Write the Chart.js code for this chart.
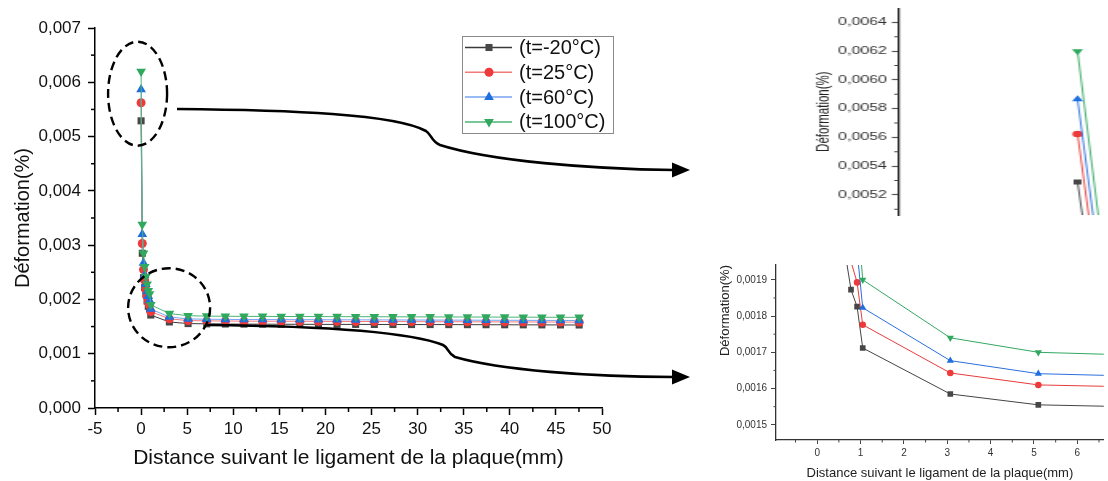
<!DOCTYPE html>
<html>
<head>
<meta charset="utf-8">
<script src="https://cdn.jsdelivr.net/npm/chart.js@4.4.1/dist/chart.umd.min.js"></script>
<style>
html, body { margin: 0; padding: 0; background: #fff; }
#page { position: relative; width: 1108px; height: 481px; overflow: hidden; background: #fff; }
canvas { position: absolute; }
#mainChart { left: 0; top: 0; }
#zoomTop { left: 800px; top: 0; transform: scaleX(1.6); transform-origin: 0 0; }
#zoomBottom { left: 700px; top: 250px; }
</style>
</head>
<body>
<div id="page">
  <canvas id="mainChart" width="700" height="481"></canvas>
  <canvas id="zoomTop" width="193" height="235"></canvas>
  <canvas id="zoomBottom" width="408" height="231"></canvas>
</div>
<script>
// --- Données ---
const distance = [0, 0.13, 0.26, 0.39, 0.52, 0.65, 0.78, 0.92, 1.05,
    3.07, 5.1, 7.12, 9.14, 11.16, 13.18, 15.2, 17.22, 19.24, 21.26, 23.28, 25.3,
    27.32, 29.34, 31.36, 33.38, 35.4, 37.42, 39.44, 41.46, 43.48, 45.5, 47.52];

const defM20 = [0.00529, 0.00285, 0.0024, 0.00222, 0.0021, 0.00197, 0.001873, 0.001826, 0.001712,
    0.001585, 0.001555, 0.00155, 0.001547, 0.001545, 0.001544, 0.001543, 0.001542, 0.001541, 0.00154, 0.00154, 0.001539,
    0.001538, 0.001537, 0.001537, 0.001536, 0.001535, 0.001534, 0.001533, 0.001532, 0.001531, 0.00153, 0.001529];
const def25 = [0.005624, 0.00303, 0.00255, 0.00235, 0.00218, 0.00205, 0.00195, 0.001893, 0.001776,
    0.001643, 0.00161, 0.001605, 0.001602, 0.0016, 0.001599, 0.001598, 0.001597, 0.001596, 0.001595, 0.001594, 0.001593,
    0.001592, 0.001591, 0.00159, 0.001589, 0.001588, 0.001587, 0.001586, 0.001585, 0.001584, 0.001583, 0.001582];
const def60 = [0.005866, 0.0032, 0.00267, 0.00245, 0.00228, 0.00215, 0.00206, 0.00198, 0.001823,
    0.001677, 0.001641, 0.001635, 0.001632, 0.00163, 0.001629, 0.001628, 0.001627, 0.001626, 0.001625, 0.001624, 0.001623,
    0.001622, 0.001621, 0.00162, 0.001619, 0.001618, 0.001617, 0.001616, 0.001615, 0.001614, 0.001613, 0.001612];
const def100 = [0.0062, 0.00338, 0.00285, 0.0026, 0.00242, 0.00228, 0.00216, 0.0021, 0.0019,
    0.00174, 0.0017, 0.001693, 0.00169, 0.001688, 0.001687, 0.001686, 0.001685, 0.001684, 0.001683, 0.001682, 0.001681,
    0.00168, 0.001679, 0.001678, 0.001677, 0.001676, 0.001675, 0.001674, 0.001673, 0.001672, 0.001671, 0.00167];

const seriesLabels = ['(t=-20°C)', '(t=25°C)', '(t=60°C)', '(t=100°C)'];
const seriesValues = [defM20, def25, def60, def100];

const xTitle = 'Distance suivant le ligament de la plaque(mm)';
const yTitle = 'Déformation(%)';

// --- Styles ---
const markerColors = ['#474747', '#ee3a3a', '#1f6ee0', '#30a85e'];
const lineColorsMain = ['#3a3a3a', '#f47a7a', '#76a4f0', '#4cb577'];
const lineColorsZoom = ['#444444', '#e83c3c', '#2a6fdc', '#34a862'];
const markerStyles = ['rect', 'circle', 'triangle', 'triangle'];
const markerRotation = [0, 0, 0, 180];

Chart.defaults.font.family = 'Arial, "Liberation Sans", Helvetica, sans-serif';

const fmt = (v, d) => v.toFixed(d).replace('.', ',');

function buildSets(sizes, lineWidth, lineColors) {
    return seriesLabels.map((label, i) => ({
        label: label,
        data: distance.map((d, k) => ({ x: d, y: seriesValues[i][k] })),
        showLine: true,
        borderColor: lineColors[i],
        borderWidth: lineWidth,
        pointStyle: markerStyles[i],
        pointRotation: markerRotation[i],
        pointRadius: sizes[i],
        pointBackgroundColor: markerColors[i],
        pointBorderWidth: 0,
        tension: 0,
        order: 3 - i
    }));
}

// petites graduations intermédiaires
const minorTicks = {
    id: 'minorTicks',
    afterDraw(chart, args, opts) {
        const { ctx, chartArea, scales } = chart;
        ctx.save();
        ctx.strokeStyle = opts.color;
        ctx.lineWidth = opts.width;
        (opts.x || []).forEach(v => {
            const px = scales.x.getPixelForValue(v);
            if (px < chartArea.left || px > chartArea.right) return;
            ctx.beginPath();
            ctx.moveTo(px, chartArea.bottom);
            ctx.lineTo(px, chartArea.bottom + opts.len);
            ctx.stroke();
        });
        (opts.y || []).forEach(v => {
            const py = scales.y.getPixelForValue(v);
            if (py < chartArea.top || py > chartArea.bottom) return;
            ctx.beginPath();
            ctx.moveTo(chartArea.left, py);
            ctx.lineTo(chartArea.left - opts.len, py);
            ctx.stroke();
        });
        ctx.restore();
    }
};

// ellipses pointillées, flèches et légende du graphe principal
const decorations = {
    id: 'decorations',
    afterDraw(chart) {
        const { ctx, scales: { x, y } } = chart;
        ctx.save();
        ctx.strokeStyle = '#000';
        ctx.lineWidth = 2.4;
        ctx.setLineDash([9, 5]);
        ctx.beginPath();
        ctx.ellipse(x.getPixelForValue(-0.38), y.getPixelForValue(0.00579), 29.5, 52, 0, 0, 2 * Math.PI);
        ctx.stroke();
        ctx.beginPath();
        ctx.ellipse(x.getPixelForValue(3.04), y.getPixelForValue(0.001847), 41, 39.5, 0, 0, 2 * Math.PI);
        ctx.stroke();
        ctx.setLineDash([]);

        ctx.lineWidth = 2.6;
        ctx.beginPath();
        ctx.moveTo(177, 109);
        ctx.bezierCurveTo(290, 110, 395, 114, 426, 131);
        ctx.bezierCurveTo(432, 135, 431, 141, 440, 145);
        ctx.bezierCurveTo(490, 161, 590, 169, 674, 170);
        ctx.stroke();
        ctx.beginPath();
        ctx.moveTo(207, 325);
        ctx.bezierCurveTo(320, 326, 410, 332, 443, 345);
        ctx.bezierCurveTo(449, 348, 447, 353, 455, 357);
        ctx.bezierCurveTo(500, 370, 590, 377, 674, 377);
        ctx.stroke();
        ctx.fillStyle = '#000';
        [170, 377].forEach(ay => {
            ctx.beginPath();
            ctx.moveTo(690, ay);
            ctx.lineTo(672, ay - 7.5);
            ctx.lineTo(672, ay + 7.5);
            ctx.closePath();
            ctx.fill();
        });

        // légende
        ctx.strokeStyle = '#8a8a8a';
        ctx.lineWidth = 1;
        ctx.strokeRect(462.5, 36.5, 151, 97);
        chart.data.datasets.forEach((ds, i) => {
            const yy = 47.5 + i * 24.8;
            ctx.strokeStyle = ds.borderColor;
            ctx.lineWidth = 1.5;
            ctx.beginPath();
            ctx.moveTo(465, yy);
            ctx.lineTo(512, yy);
            ctx.stroke();
            ctx.fillStyle = ds.pointBackgroundColor;
            Chart.helpers.drawPoint(ctx, {
                pointStyle: ds.pointStyle, radius: ds.pointRadius,
                rotation: ds.pointRotation, borderWidth: 0
            }, 489, yy);
            ctx.fillStyle = '#111';
            ctx.font = '20px Arial, "Liberation Sans", sans-serif';
            ctx.textAlign = 'left';
            ctx.textBaseline = 'middle';
            ctx.fillText(ds.label, 519, yy + 1);
        });
        ctx.restore();
    }
};

const range = (a, b, s) => { const r = []; for (let v = a; v <= b + s / 100; v += s) r.push(+v.toFixed(6)); return r; };

// --- Graphe principal ---
new Chart(document.getElementById('mainChart'), {
    type: 'scatter',
    data: { datasets: buildSets([5, 4.5, 5.6, 5.6], 1, lineColorsMain) },
    options: {
        responsive: false,
        animation: false,
        events: [],
        layout: { padding: { top: 28, right: 98, bottom: 0, left: 0 } },
        plugins: {
            legend: { display: false },
            tooltip: { enabled: false },
            minorTicks: { x: range(-2.5, 47.5, 5), y: range(0.0005, 0.0065, 0.001), len: 4, color: '#000', width: 1.5 }
        },
        scales: {
            x: {
                type: 'linear', min: -5, max: 50,
                ticks: { stepSize: 5, includeBounds: false, color: '#111', font: { size: 17 }, padding: 4 },
                grid: { drawOnChartArea: false, tickLength: 7, tickColor: '#000', tickWidth: 1.5 },
                border: { color: '#000', width: 1.5 },
                title: { display: true, text: xTitle, color: '#111', font: { size: 21 }, padding: { top: 0, bottom: 10 } },
                afterFit: s => { s.height = 73; }
            },
            y: {
                min: 0, max: 0.007,
                ticks: { stepSize: 0.001, includeBounds: false, color: '#111', font: { size: 17 }, padding: 7, callback: v => fmt(v, 3) },
                grid: { drawOnChartArea: false, tickLength: 7, tickColor: '#000', tickWidth: 1.5 },
                border: { color: '#000', width: 1.5 },
                title: { display: true, text: yTitle, color: '#111', font: { size: 20 }, padding: { top: 11, bottom: 0 } },
                afterFit: s => { s.width = 95; }
            }
        }
    },
    plugins: [minorTicks, decorations]
});

// --- Zoom haut (pics à x = 0) ---
new Chart(document.getElementById('zoomTop'), {
    type: 'scatter',
    data: { datasets: buildSets([3.5, 3.2, 4, 4], 0.9, lineColorsZoom) },
    options: {
        responsive: false,
        animation: false,
        events: [],
        layout: { padding: { top: 8.3, right: 0, bottom: 20, left: 0 } },
        plugins: {
            legend: { display: false },
            tooltip: { enabled: false },
            minorTicks: { y: range(0.0051, 0.0063, 0.0002), len: 2.5, color: '#444', width: 1 }
        },
        scales: {
            x: { type: 'linear', display: false, min: -0.455, max: 0.063 },
            y: {
                min: 0.00506, max: 0.006498,
                ticks: { stepSize: 0.0002, includeBounds: false, color: '#333', font: { size: 10, lineHeight: 1 }, padding: 3, callback: v => fmt(v, 4) },
                grid: { drawOnChartArea: false, tickLength: 4, tickColor: '#555', tickWidth: 1.2 },
                border: { color: '#222', width: 1.3 },
                title: { display: true, text: yTitle, color: '#222', font: { size: 11.5 }, padding: { top: 7.9, bottom: 0 } },
                afterFit: s => { s.width = 61.4; }
            }
        }
    },
    plugins: [minorTicks]
});

// --- Zoom bas (palier) ---
new Chart(document.getElementById('zoomBottom'), {
    type: 'scatter',
    data: { datasets: buildSets([4, 3.3, 4.2, 4.2], 1, lineColorsZoom) },
    options: {
        responsive: false,
        animation: false,
        events: [],
        layout: { padding: { top: 15, right: 0, bottom: 0, left: 0 } },
        plugins: {
            legend: { display: false },
            tooltip: { enabled: false },
            minorTicks: { x: range(-0.5, 6.5, 1), y: range(0.00155, 0.00185, 0.0001), len: 2.5, color: '#444', width: 1 }
        },
        scales: {
            x: {
                type: 'linear', min: -0.95, max: 6.61,
                ticks: { stepSize: 1, includeBounds: false, color: '#333', font: { size: 10 }, padding: 3 },
                grid: { drawOnChartArea: false, tickLength: 4, tickColor: '#444', tickWidth: 1 },
                border: { color: '#333', width: 1.3 },
                title: { display: true, text: xTitle, color: '#222', font: { size: 13 }, padding: { top: 0, bottom: 0 } },
                afterFit: s => { s.height = 41; }
            },
            y: {
                min: 0.001458, max: 0.001941,
                ticks: { stepSize: 0.0001, includeBounds: false, color: '#333', font: { size: 10 }, padding: 4, callback: v => fmt(v, 4) },
                grid: { drawOnChartArea: false, tickLength: 5, tickColor: '#444', tickWidth: 1 },
                border: { color: '#333', width: 1.3 },
                title: { display: true, text: yTitle, align: 'end', color: '#222', font: { size: 13 }, padding: { top: 18, bottom: 0 } },
                afterFit: s => { s.width = 76; }
            }
        }
    },
    plugins: [minorTicks]
});
</script>
</body>
</html>
